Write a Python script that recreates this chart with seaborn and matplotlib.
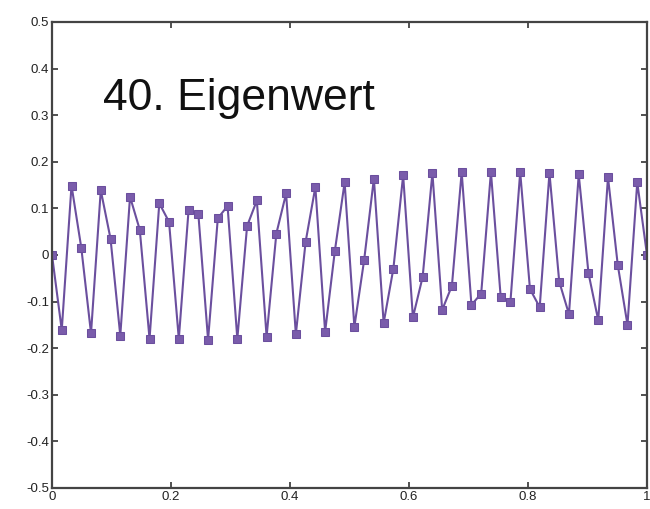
import numpy as np
import pandas as pd
import matplotlib
matplotlib.use("Agg")
import matplotlib.pyplot as plt
import seaborn as sns

# Data (62 grid points on [0, 1])
values = [
    0.000, -0.161, 0.149, 0.016, -0.168, 0.139, 0.035, -0.173, 0.125, 0.054,
    -0.180, 0.111, 0.071, -0.180, 0.096, 0.089, -0.182, 0.079, 0.105, -0.180,
    0.062, 0.117, -0.175, 0.046, 0.132, -0.170, 0.028, 0.146, -0.165, 0.009,
    0.156, -0.154, -0.011, 0.164, -0.146, -0.029, 0.171, -0.134, -0.047, 0.176,
    -0.118, -0.066, 0.178, -0.107, -0.083, 0.178, -0.090, -0.100, 0.178, -0.073,
    -0.112, 0.176, -0.057, -0.127, 0.173, -0.039, -0.140, 0.167, -0.021, -0.150,
    0.156, 0.000,
]
x_values = [k / (len(values) - 1) for k in range(len(values))]
x_ticks = [0, 0.2, 0.4, 0.6, 0.8, 1.0]
x_ticklabels = ["0", "0.2", "0.4", "0.6", "0.8", "1"]
y_ticks = [-0.5, -0.4, -0.3, -0.2, -0.1, 0, 0.1, 0.2, 0.3, 0.4, 0.5]
y_ticklabels = ["-0.5", "-0.4", "-0.3", "-0.2", "-0.1", "0", "0.1", "0.2", "0.3", "0.4", "0.5"]
title_text = "40. Eigenwert"

df = pd.DataFrame({"x": x_values, "v": values})

sns.set_theme(style="white")
plt.rcParams["font.family"] = ["Liberation Sans", "DejaVu Sans"]

fig = plt.figure(figsize=(6.5, 5.09), dpi=100)
ax = fig.add_axes([52 / 650, 1 - 488 / 509, (647 - 52) / 650, (488 - 22) / 509])

purple = "#6b4f9e"
sns.lineplot(data=df, x="x", y="v", ax=ax, color=purple, linewidth=1.5,
             marker="s", markersize=5.8, markeredgecolor=purple,
             markerfacecolor="#7a5cab")

ax.set_xlim(0, 1)
ax.set_ylim(-0.5, 0.5)
ax.set_xticks(x_ticks)
ax.set_xticklabels(x_ticklabels)
ax.set_yticks(y_ticks)
ax.set_yticklabels(y_ticklabels)
ax.set_xlabel("")
ax.set_ylabel("")

for s in ax.spines.values():
    s.set_visible(True)
    s.set_color("#444444")
    s.set_linewidth(1.6)

ax.tick_params(axis="both", direction="in", length=4, width=1.2, color="#333333",
               labelsize=9.5, labelcolor="#222222", pad=2,
               top=True, right=True, bottom=True, left=True)

ax.text(0.086, 0.835, title_text, transform=ax.transAxes, fontsize=32,
        color="#111111", ha="left", va="center")

fig.savefig("out.png", dpi=100)
